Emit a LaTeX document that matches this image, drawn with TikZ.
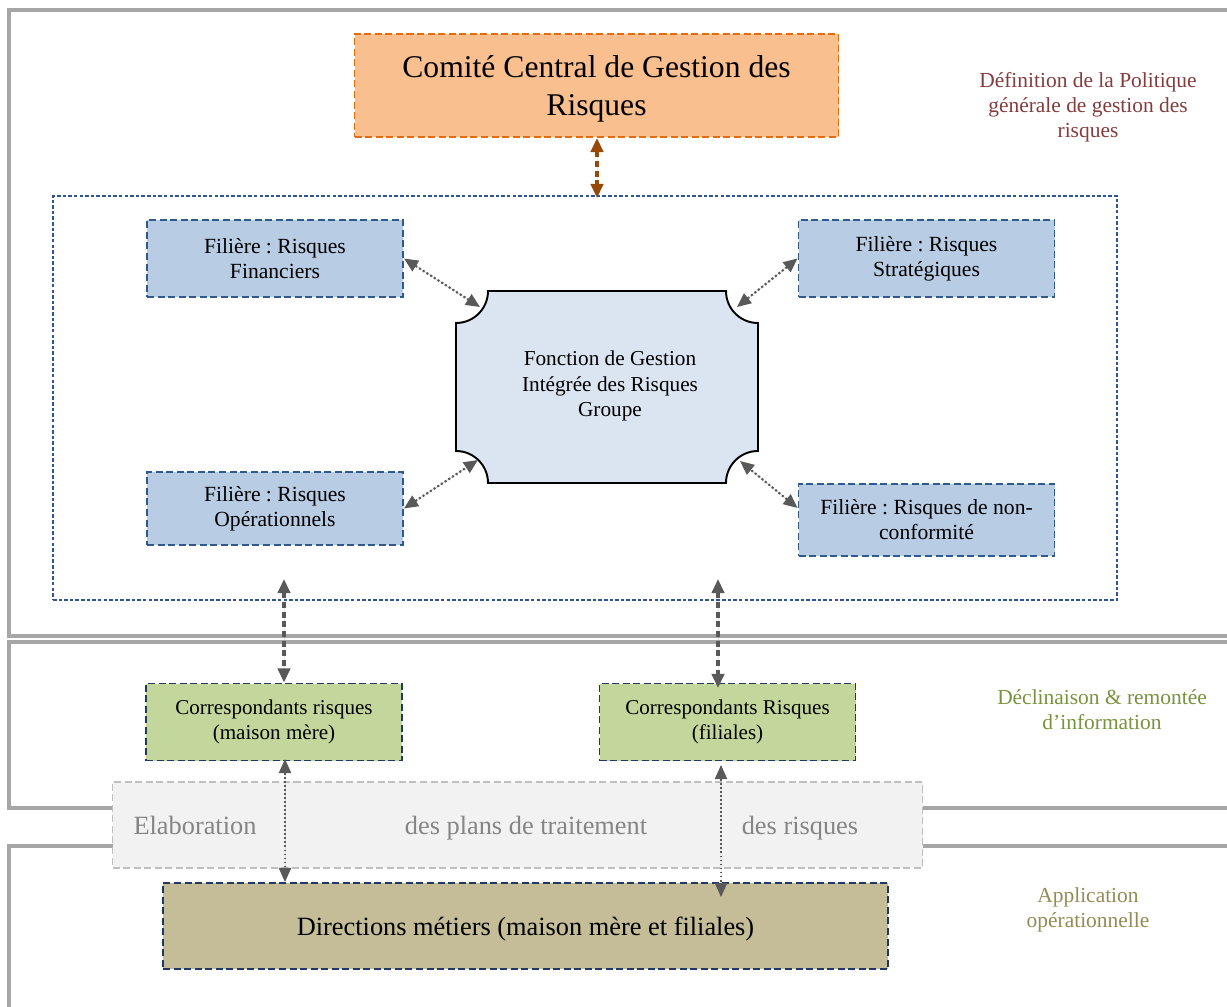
\documentclass[tikz,border=0pt]{standalone}
\usepackage{fontspec}
\setmainfont{Liberation Serif}
\usetikzlibrary{arrows.meta,calc}
\frenchspacing
\newlength\pxl \setlength\pxl{0.02cm}
\definecolor{bandgray}{HTML}{A6A6A6}
\definecolor{comfill}{HTML}{F9BF8F}
\definecolor{comdraw}{HTML}{E46C0A}
\definecolor{comarrow}{HTML}{984807}
\definecolor{deflabel}{HTML}{843C3C}
\definecolor{declabel}{HTML}{77933C}
\definecolor{applabel}{HTML}{948A54}
\definecolor{contdraw}{HTML}{2F5597}
\definecolor{filfill}{HTML}{B8CCE4}
\definecolor{fildraw}{HTML}{2E5A8C}
\definecolor{girfill}{HTML}{DBE5F1}
\definecolor{corfill}{HTML}{C3D69B}
\definecolor{darkblue}{HTML}{1F3864}
\definecolor{dirfill}{HTML}{C4BD97}
\definecolor{elabfill}{HTML}{F2F2F2}
\definecolor{elabdraw}{HTML}{BFBFBF}
\definecolor{elabtext}{HTML}{858585}
\definecolor{arrgray}{HTML}{595959}
\begin{document}
\begin{tikzpicture}[x=0.02cm,y=-0.02cm,
  band/.style={draw=bandgray, line width=2.2pt},
  boxbase/.style={rectangle, inner sep=0pt, align=center, line width=1.1pt, dash pattern=on 4pt off 2pt},
  filbox/.style={boxbase, draw=fildraw, fill=filfill, minimum width=256\pxl, font=\fontsize{12.3}{14.2}\selectfont},
  corbox/.style={boxbase, draw=darkblue, fill=corfill, minimum width=256\pxl, minimum height=77\pxl, font=\fontsize{12}{14.2}\selectfont},
  lbl/.style={align=center, inner sep=0pt, font=\fontsize{12.2}{14.2}\selectfont},
  elab/.style={inner sep=0pt, anchor=base, text=elabtext, font=\fontsize{15}{18}\selectfont},
  arr/.style={arrows={Triangle[length=8pt,width=7pt]-Triangle[length=8pt,width=7pt]}},
  diagarr/.style={arr, draw=arrgray, fill=arrgray, line width=1.2pt, dash pattern=on 1.2pt off 1.3pt},
  vertarr/.style={arr, draw=arrgray, fill=arrgray, line width=1.8pt, dash pattern=on 3.5pt off 2pt},
  thinarr/.style={arr, draw=arrgray, fill=arrgray, line width=0.7pt, dash pattern=on 1pt off 1.3pt}
]
\useasboundingbox (0,0) rectangle (1227,1007);

% background bands
\draw[band] (1227,10) -- (9,10) -- (9,636) -- (1227,636);
\draw[band] (1227,642) -- (9,642) -- (9,808) -- (1227,808);
\draw[band] (1227,846) -- (9,846) -- (9,1007);

% side labels
\node[lbl, text=deflabel] (ldef) at (1088,107) {Définition de la Politique\\générale de gestion des\\risques};
\node[lbl, text=declabel] (ldec) at (1102,710) {Déclinaison \& remontée\\d’information};
\node[lbl, text=applabel] (lapp) at (1088,910) {Application\\opérationnelle};

% Comité
\node[boxbase, draw=comdraw, fill=comfill, minimum width=484\pxl, minimum height=103\pxl,
      font=\fontsize{18}{21.5}\selectfont, text depth=0pt] (com) at (596.5,85.5) {Comité Central de Gestion des\\Risques};

% container
\node[rectangle, draw=contdraw, line width=0.6pt, dash pattern=on 2pt off 1.2pt,
      minimum width=1064\pxl, minimum height=404\pxl, inner sep=0pt] (cont) at (585,398) {};

% filières
\node[filbox, minimum height=77\pxl] (ffin) at (275,258.5) {Filière : Risques\\Financiers};
\node[filbox, minimum height=77\pxl] (fstr) at (926.5,258.5) {Filière : Risques\\Stratégiques};
\node[filbox, minimum height=73\pxl] (fope) at (275,508.5) {Filière : Risques\\Opérationnels};
\node[filbox, minimum height=72\pxl] (fnon) at (926.5,520) {Filière : Risques de non-\\conformité};

% central shape
\draw[fill=girfill, draw=black, line width=1.1pt]
  (488,291) -- (726,291)
  .. controls (726,308.7) and (740.3,323) .. (758,323)
  -- (758,451)
  .. controls (740.3,451) and (726,465.3) .. (726,483)
  -- (488,483)
  .. controls (488,465.3) and (473.7,451) .. (456,451)
  -- (456,323)
  .. controls (473.7,323) and (488,308.7) .. (488,291) -- cycle;
\node[lbl, font=\fontsize{12.1}{14.5}\selectfont] (gir) at (610,386) {Fonction de Gestion\\Intégrée des Risques\\Groupe};
\coordinate (gTL) at (480,307);
\coordinate (gTR) at (737,307);
\coordinate (gBL) at (478,460);
\coordinate (gBR) at (740,461);

% correspondants
\node[corbox] (cmm) at (274,722) {Correspondants risques\\(maison mère)};
\node[corbox] (cfi) at (727.5,722) {Correspondants Risques\\(filiales)};

% elaboration band
\node[rectangle, draw=elabdraw, fill=elabfill, line width=1.1pt, dash pattern=on 4pt off 2pt,
      minimum width=810\pxl, minimum height=86\pxl, inner sep=0pt] (elb) at (517.5,825) {};
\node[elab] (el1) at (195,834) {Elaboration};
\node[elab] (el2) at (526,834) {des plans de traitement};
\node[elab] (el3) at (800,834) {des risques};

% directions
\node[boxbase, draw=darkblue, fill=dirfill, minimum width=725\pxl, minimum height=86\pxl,
      font=\fontsize{15}{18}\selectfont, text height=13pt, text depth=1.8pt] (dir) at (525.5,926) {Directions métiers (maison mère et filiales)};

% connectors
\coordinate (contC) at (597,198);
\draw[arr, draw=comarrow, fill=comarrow, line width=1.8pt, dash pattern=on 3.5pt off 2pt] (com.south -| contC) -- (contC);

\draw[diagarr] (ffin.east) -- (gTL);
\draw[diagarr] (fstr.west) -- (gTR);
\draw[diagarr] (fope.east) -- (gBL);
\draw[diagarr] ($(fnon.west)+(0,-12)$) -- (gBR);

\coordinate (vA) at (284,579);
\coordinate (vB) at (718,579);
\coordinate (vBb) at (718,688);
\draw[vertarr] (vA) -- (vA |- cmm.north);
\draw[vertarr] (vB) -- (vBb);

\coordinate (tA) at (285,759);
\coordinate (tB) at (721,765);
\coordinate (tBb) at (721,897);
\draw[thinarr] (tA) -- (tA |- dir.north);
\draw[thinarr] (tB) -- (tBb);
\end{tikzpicture}
\end{document}
